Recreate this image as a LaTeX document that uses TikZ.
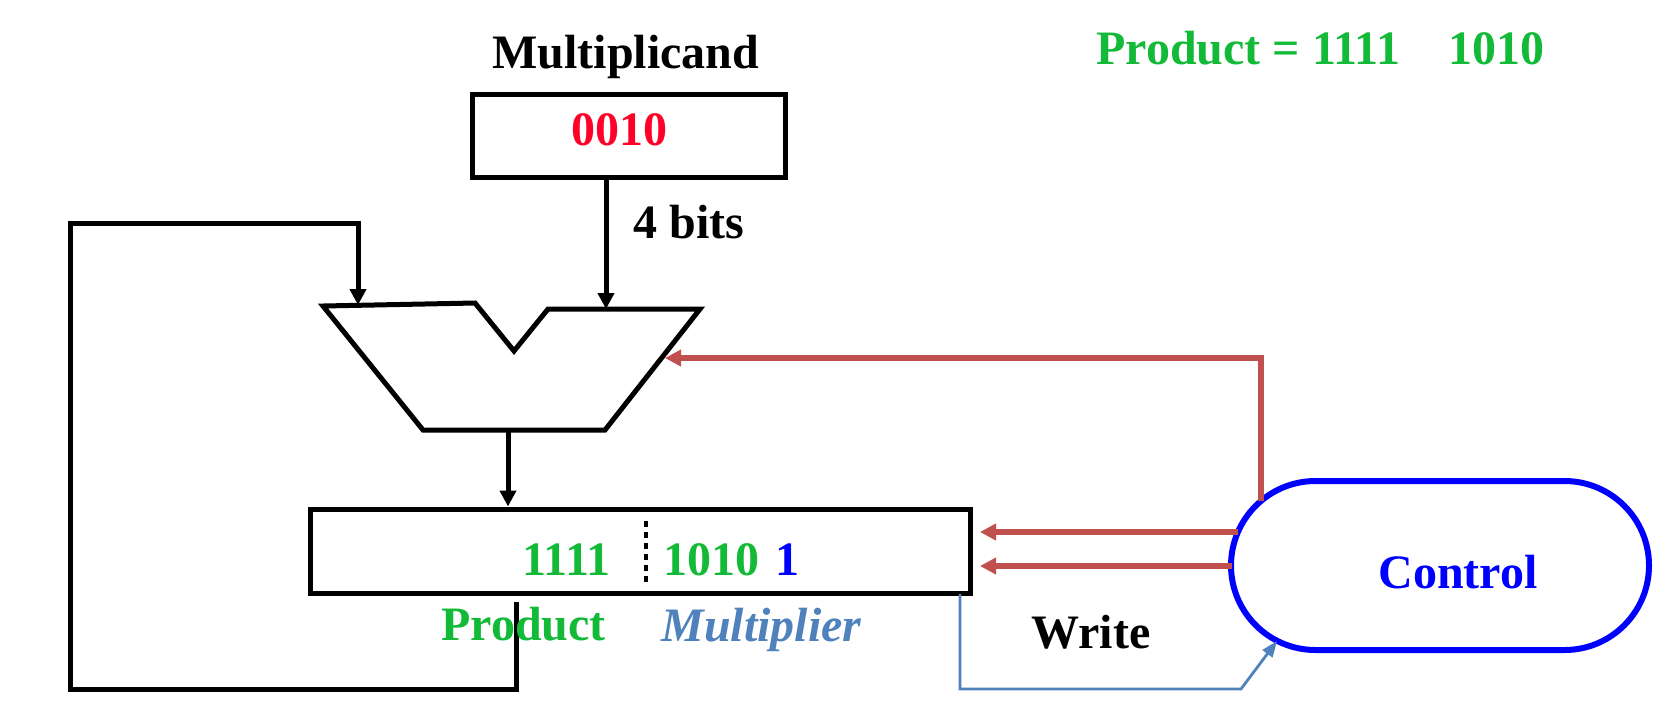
\documentclass[tikz,border=0pt]{standalone}
\usepackage{fontspec}
\setmainfont{Liberation Serif}
\usetikzlibrary{arrows.meta}
\definecolor{prodgreen}{RGB}{18,186,56}
\definecolor{mcred}{RGB}{255,0,40}
\definecolor{ctlred}{RGB}{192,80,77}
\definecolor{wblue}{RGB}{79,129,189}
\begin{document}
\begin{tikzpicture}[x=0.5pt,y=-0.5pt,
  lbl/.style={font=\fontsize{24}{28}\selectfont\bfseries, inner sep=0pt, anchor=base west},
  blk/.style={line width=2.5pt, draw=black},
  blkarrow/.style={line width=2.5pt, draw=black, -{Triangle[length=8pt,width=8pt]}},
  redarrow/.style={line width=2.6pt, draw=ctlred, -{Triangle[length=8pt,width=8pt]}},
  wline/.style={line width=1.4pt, draw=wblue, -{Triangle[length=8pt,width=6pt]}},
  ctlshape/.style={draw=blue, line width=3pt, rounded corners=42.25pt}]
\useasboundingbox (0,0) rectangle (1668,725);
% boxes
\node[blk, minimum width=156.5pt, minimum height=41.5pt, inner sep=0pt] (mcand) at (628.5,135.5) {};
\node[blk, minimum width=330pt, minimum height=42pt, inner sep=0pt] (reg) at (640,551) {};
\node[ctlshape, minimum width=209pt, minimum height=84.5pt, inner sep=0pt] (ctl) at (1440,565.5) {};
% ALU
\coordinate (aluTL) at (323,306);
\coordinate (aluL) at (475,303);
\coordinate (aluV) at (514,351);
\coordinate (aluR) at (548,309);
\coordinate (aluTR) at (700,309);
\coordinate (aluBR) at (605,430);
\coordinate (aluBL) at (423,430);
\draw[blk] (aluTL) -- (aluL) -- (aluV) -- (aluR) -- (aluTR) -- (aluBR) -- (aluBL) -- cycle;
\coordinate (in1) at (358,305);
\coordinate (in2) at (606,309);
\coordinate (aluout) at (508,430);
\coordinate (aluctl) at (665,358);
% black connectors
\draw[blkarrow] (mcand.south -| in2) -- (in2);
\draw[blkarrow] (aluout) -- (aluout |- reg.north);
\coordinate (fb0) at (516,602);
\coordinate (fb1) at (70,689);
\coordinate (fb2) at (358,223);
\draw[blkarrow] (fb0) -- (fb0 |- fb1) -- (fb1) -- (fb1 |- fb2) -- (fb2) -- (in1);
% red control lines
\coordinate (c1) at (1261,501);
\draw[redarrow] (c1) -- (c1 |- aluctl) -- (aluctl);
\coordinate (c2) at (1238,532);
\coordinate (t2) at (980,532);
\coordinate (c3) at (1232,566);
\coordinate (t3) at (980,566);
\draw[redarrow] (c2) -- (t2);
\draw[redarrow] (c3) -- (t3);
% write line
\coordinate (w0) at (960,594);
\coordinate (w1) at (1241,689);
\coordinate (w2) at (1277,641);
\draw[wline] (w0) -- (w0 |- w1) -- (w1) -- (w2);
% dotted divider
\draw[line width=2.2pt, dash pattern=on 3pt off 2.5pt] (646,521) -- (646,582);
% texts
\node[lbl] (tmcand) at (492,68) {Multiplicand};
\node[lbl, text=mcred] (tval) at (571,145) {0010};
\node[lbl] (tbits) at (633,238) {4 bits};
\node[lbl, text=prodgreen] (tprod) at (1096,64) {Product = 1111\hspace{24pt}1010};
\node[lbl, text=prodgreen] (r1) at (522,575) {1111};
\node[lbl, text=prodgreen] (r2) at (663,575) {1010};
\node[lbl, text=blue] (r3) at (775,575) {1};
\node[lbl, text=prodgreen] (lprod) at (441,640) {Product};
\node[lbl, text=wblue, font=\fontsize{24}{28}\selectfont\bfseries\itshape] (lmult) at (661,641) {Multiplier};
\node[lbl] (lwrite) at (1031,648) {Write};
\node[lbl, text=blue] (lctl) at (1378,588) {Control};
\end{tikzpicture}
\end{document}
